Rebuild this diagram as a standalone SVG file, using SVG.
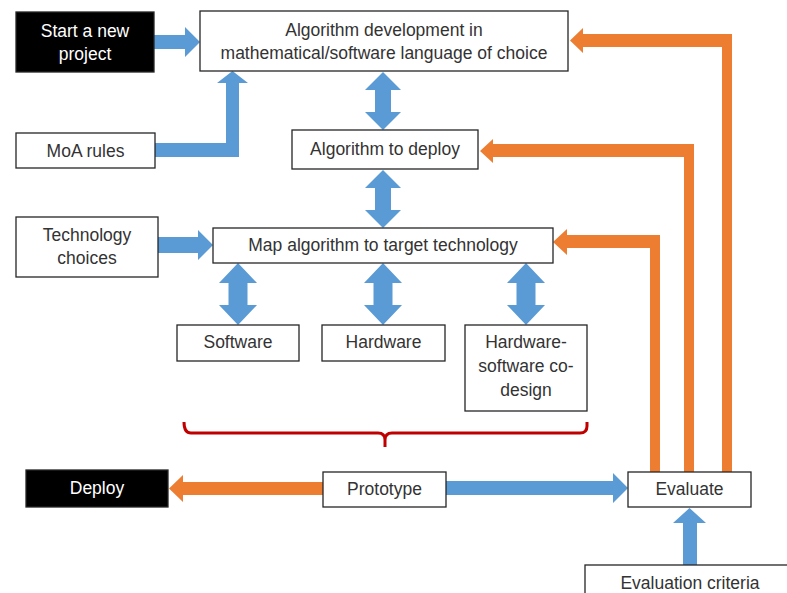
<svg xmlns="http://www.w3.org/2000/svg" width="787" height="593" viewBox="0 0 787 593">
<style>
.box{fill:#fff;stroke:#262626;stroke-width:1.3}
.dark{fill:#000;stroke:#262626;stroke-width:1.3}
.t{font-family:"Liberation Sans",Arial,sans-serif;font-size:17.5px;fill:#333;text-anchor:middle}
.w{fill:#fff}
.blue{fill:#5B9BD5}
.orange{fill:#ED7D31}
</style>
<rect width="787" height="593" fill="#fff"/>
<g id="connectors">
<polygon class="blue" points="154,35 185,35 185,27 200,42 185,57 185,49 154,49"/>
<polygon class="blue" points="155,143 226,143 226,83 217,83 232.5,71 248,83 239,83 239,157 155,157"/>
<polygon class="blue" points="383,72 401,90 391,90 391,112 401,112 383,130 365,112 375,112 375,90 365,90"/>
<polygon class="blue" points="383,170 401,188 391,188 391,210 401,210 383,228 365,210 375,210 375,188 365,188"/>
<polygon class="blue" points="238,263 257,283 247.5,283 247.5,305 257,305 238,325 219,305 228.5,305 228.5,283 219,283"/>
<polygon class="blue" points="383,263 402,283 392.5,283 392.5,305 402,305 383,325 364,305 373.5,305 373.5,283 364,283"/>
<polygon class="blue" points="526,263 545,283 535.5,283 535.5,305 545,305 526,325 507,305 516.5,305 516.5,283 507,283"/>
<polygon class="blue" points="158,237 198,237 198,230 213,245 198,260 198,253 158,253"/>
<polygon class="orange" points="570,40.5 583,28 583,34 732,34 732,472 722,472 722,47 583,47 583,53"/>
<polygon class="orange" points="480,151 493,139 493,144 694,144 694,472 684,472 684,157 493,157 493,163"/>
<polygon class="orange" points="553,242 567,229 567,235 660,235 660,472 650,472 650,248 567,248 567,255"/>
<polygon class="orange" points="169,488.5 183,475 183,482 323,482 323,495 183,495 183,502"/>
<polygon class="blue" points="446,481 613,481 613,473 628,488 613,503 613,495 446,495"/>
<polygon class="blue" points="683,565 683,523 673,523 689.5,508 706,523 697,523 697,565"/>
<path d="M184,422 Q184,433 191,433 L378,433 Q385,433 385,440 L385,447 M385,440 Q385,433 392,433 L580,433 Q587,433 587,426 L587,422" fill="none" stroke="#C00000" stroke-width="3"/>
</g>
<g id="start"><rect class="dark" x="16" y="12" width="138" height="60"/><text class="t w" x="85" y="37">Start a new</text><text class="t w" x="85" y="60">project</text></g>
<g id="algdev"><rect class="box" x="200" y="11" width="368" height="60"/><text class="t" x="384" y="36">Algorithm development in</text><text class="t" x="384" y="59">mathematical/software language of choice</text></g>
<g id="moa"><rect class="box" x="16" y="133" width="139" height="35"/><text class="t" x="85.5" y="157">MoA rules</text></g>
<g id="algdeploy"><rect class="box" x="292" y="130" width="186" height="39"/><text class="t" x="385" y="155">Algorithm to deploy</text></g>
<g id="tech"><rect class="box" x="16" y="217" width="142" height="60"/><text class="t" x="87" y="241">Technology</text><text class="t" x="87" y="264">choices</text></g>
<g id="map"><rect class="box" x="213" y="228" width="340" height="35"/><text class="t" x="383" y="251">Map algorithm to target technology</text></g>
<g id="software"><rect class="box" x="177" y="325" width="122" height="36"/><text class="t" x="238" y="348">Software</text></g>
<g id="hardware"><rect class="box" x="322" y="325" width="123" height="36"/><text class="t" x="383.5" y="348">Hardware</text></g>
<g id="codesign"><rect class="box" x="465" y="325" width="122" height="86"/><text class="t" x="526" y="348">Hardware-</text><text class="t" x="526" y="372">software co-</text><text class="t" x="526" y="396">design</text></g>
<g id="deploy"><rect class="dark" x="26" y="470" width="142" height="37"/><text class="t w" x="97" y="494">Deploy</text></g>
<g id="prototype"><rect class="box" x="323" y="472" width="123" height="35"/><text class="t" x="384.5" y="495">Prototype</text></g>
<g id="evaluate"><rect class="box" x="628" y="472" width="123" height="35"/><text class="t" x="689.5" y="495">Evaluate</text></g>
<g id="criteria"><rect class="box" x="585" y="565" width="210" height="40"/><text class="t" x="690" y="589">Evaluation criteria</text></g>
</svg>
